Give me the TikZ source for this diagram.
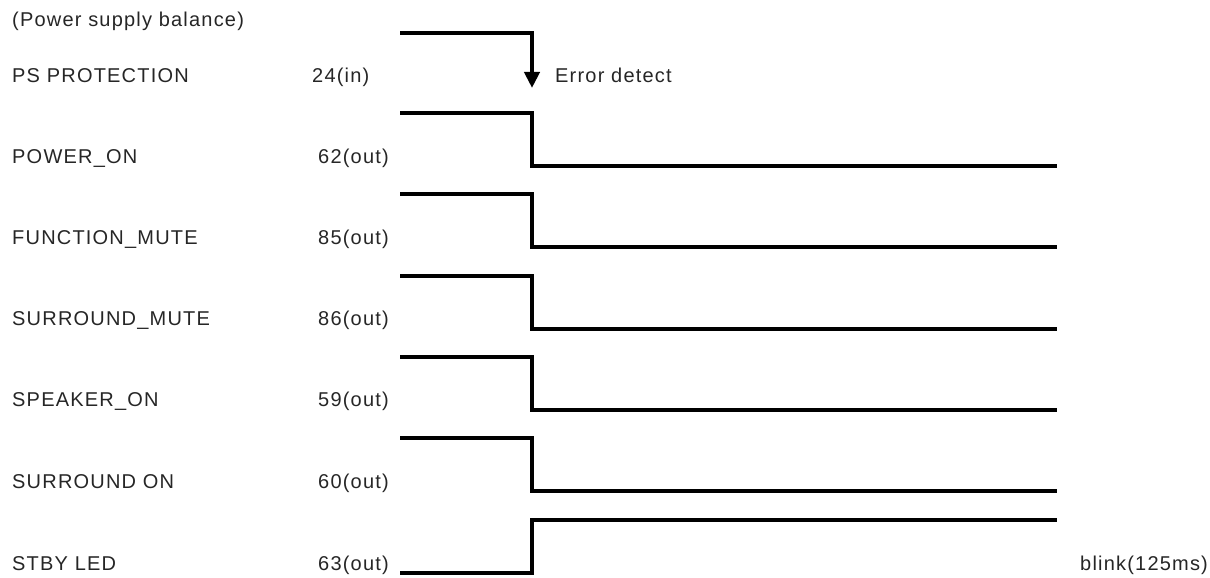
\documentclass[tikz,border=0pt]{standalone}
\usepackage{fontspec}
\setmainfont{Liberation Sans}[LetterSpace=6]
\usetikzlibrary{arrows.meta}
\begin{document}
\begin{tikzpicture}[x=1pt,y=-1pt,
  lbl/.style={anchor=base west,inner sep=0pt,font=\fontsize{20}{24}\selectfont,text=black!85},
  wave/.style={line width=4pt,line join=miter,line cap=butt}]
\useasboundingbox (0,0) rectangle (1210,578);
% labels
\node[lbl] (title) at (12,27) {(Power supply balance)};
\node[lbl] (n1) at (12,82) {PS PROTECTION};
\node[lbl] (p1) at (312,82) {24(in)};
\node[lbl] (err) at (555,82) {Error detect};
\foreach \name/\pin [count=\k from 0] in {POWER\_ON/62(out),FUNCTION\_MUTE/85(out),SURROUND\_MUTE/86(out),SPEAKER\_ON/59(out),SURROUND ON/60(out)}{
  \node[lbl] (n\k) at (12,{163+81.3*\k}) {\name};
  \node[lbl] (pin\k) at (318,{163+81.3*\k}) {\pin};
}
\node[lbl] (stby) at (12,570) {STBY LED};
\node[lbl] (pstby) at (318,570) {63(out)};
\node[lbl] (blink) at (1080,570) {blink(125ms)};
% PS PROTECTION waveform
\coordinate (a0) at (400,33);
\coordinate (a1) at (532,33);
\coordinate (a2) at (532,88);
\draw[wave,-{Triangle[length=16pt,width=15pt]}] (a0) -- (a1) -- (a2);
% falling signals
\foreach \k in {0,...,4}{
  \coordinate (h\k) at (400,{113+81.3*\k});
  \coordinate (l\k) at (1057,{166+81.3*\k});
  \draw[wave] (h\k) -| (532,{166+81.3*\k}) -- (l\k);
}
% STBY LED rising
\coordinate (s0) at (400,572.5);
\coordinate (s1) at (1057,519.5);
\draw[wave] (s0) -| (532,519.5) -- (s1);
\end{tikzpicture}
\end{document}
